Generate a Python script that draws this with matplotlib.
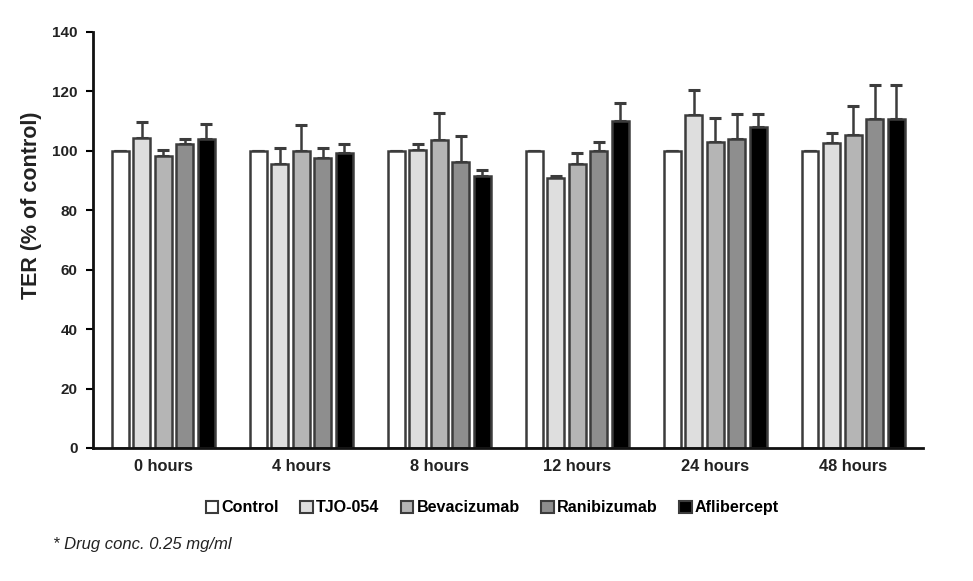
import numpy as np
import matplotlib
matplotlib.use("Agg")
import matplotlib.pyplot as plt
from matplotlib.patches import Patch

plt.rcParams["font.family"] = ["Liberation Sans", "DejaVu Sans"]

# data
timepoints = ["0 hours", "4 hours", "8 hours", "12 hours", "24 hours", "48 hours"]
drugs = ["Control", "TJO-054", "Bevacizumab", "Ranibizumab", "Aflibercept"]

control = [100, 100, 100, 100, 100, 100]
tjo054 = [104.2, 95.7, 100.2, 90.8, 112.0, 102.5]
bevacizumab = [98.3, 99.9, 103.8, 95.4, 102.8, 105.2]
ranibizumab = [102.4, 97.6, 96.4, 100.0, 103.9, 110.6]
aflibercept = [104.1, 99.2, 91.5, 110.0, 108.1, 110.6]

control_err = [0, 0, 0, 0, 0, 0]
tjo054_err = [5.4, 5.3, 2.1, 0.8, 8.6, 3.6]
bevacizumab_err = [1.9, 8.8, 8.9, 4.0, 8.1, 9.9]
ranibizumab_err = [1.7, 3.4, 8.6, 2.9, 8.6, 11.7]
aflibercept_err = [4.8, 3.2, 1.9, 6.1, 4.2, 11.7]

values = [control, tjo054, bevacizumab, ranibizumab, aflibercept]
errors = [control_err, tjo054_err, bevacizumab_err, ranibizumab_err, aflibercept_err]
colors = ["white", "#dedede", "#b5b5b5", "#8e8e8e", "black"]

fig = plt.figure(figsize=(9.73, 5.81), dpi=100)
ax = fig.add_axes([0.0956, 0.229, 0.8534, 0.716])

x = np.arange(len(timepoints))
width = 0.123
pitch = 0.156
edge = "#3c3c3c"

for i, (vals, errs, col) in enumerate(zip(values, errors, colors)):
    pos = x + (i - 2) * pitch
    ax.bar(pos, vals, width, color=col, edgecolor=edge, linewidth=1.8, zorder=2)
    ax.errorbar(pos, vals, yerr=[np.zeros(len(errs)), errs], fmt="none",
                ecolor=edge, elinewidth=1.8, capsize=4.5, capthick=2.2, zorder=1)

ax.set_xlim(-0.51, 5.51)
ax.set_ylim(0, 140)
ax.set_yticks(range(0, 141, 20))
ax.set_xticks(x)
ax.set_xticklabels(timepoints, fontsize=11.8, fontweight="bold", color="#222222")
ax.tick_params(axis="x", length=0, pad=8)
ax.tick_params(axis="y", length=5, width=1.5, labelsize=11, pad=6, labelcolor="#222222")
for lab in ax.get_yticklabels():
    lab.set_fontweight("bold")

ax.spines["top"].set_visible(False)
ax.spines["right"].set_visible(False)
ax.spines["left"].set_linewidth(2)
ax.spines["bottom"].set_linewidth(2)
ax.spines["left"].set_color("#111111")
ax.spines["bottom"].set_color("#111111")

ax.set_ylabel("TER (% of control)", fontsize=15.5, fontweight="bold", color="#222222")
ax.yaxis.set_label_coords(-0.062, 0.584)

handles = [Patch(facecolor=c, edgecolor=edge, linewidth=1.5) for c in colors]
fig.legend(handles, drugs, loc="center", bbox_to_anchor=(0.506, 0.126), ncol=5,
           frameon=False, prop={"weight": "bold", "size": 11.6},
           handlelength=0.8, handleheight=0.8, handletextpad=0.2, columnspacing=1.3)

fig.text(0.054, 0.055, "* Drug conc. 0.25 mg/ml", fontsize=12, style="italic",
         color="#222222")

fig.savefig("out.png", dpi=100)
